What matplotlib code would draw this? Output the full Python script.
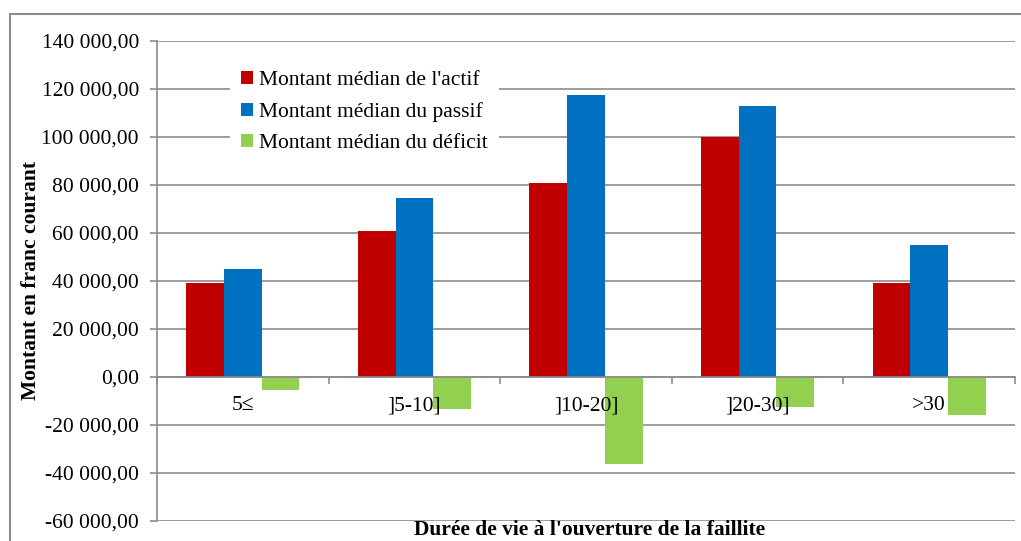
import numpy as np
import matplotlib.pyplot as plt
from matplotlib.patches import Rectangle
from matplotlib.ticker import FuncFormatter

# Tranches de durée de vie et montants médians (francs courants)
tranches = ["5≤", "]5-10]", "]10-20]", "]20-30]", ">30"]
actif = [39000, 61000, 81000, 100000, 39000]
passif = [45000, 74500, 117500, 113000, 55000]
deficit = [-5500, -13200, -36100, -12500, -15700]

series_labels = ["Montant médian de l'actif",
                 "Montant médian du passif",
                 "Montant médian du déficit"]
colors = ["#C00000", "#0070C0", "#92D050"]

plt.rcParams['font.family'] = ['Liberation Serif', 'DejaVu Serif']
plt.rcParams['font.size'] = 15.5

fig = plt.figure(figsize=(10.21, 5.41), dpi=100)
ax = fig.add_axes([157 / 1021, 1 - 521 / 541, 858 / 1021, 480 / 541])
ax.set_axisbelow(True)

grid_color = "#8C8C8C"
x = np.arange(len(tranches))
w = 0.22
for i, (vals, lab, col) in enumerate(zip([actif, passif, deficit], series_labels, colors)):
    ax.bar(x + (i - 1) * w, vals, width=w, color=col, label=lab, zorder=2)

ax.set_xlim(-0.5, len(tranches) - 0.5)
ax.set_ylim(-60000, 140000)
ax.set_yticks(np.arange(-60000, 140001, 20000))

def fr_format(v, pos):
    s = f"{abs(v):,.2f}".replace(",", " ").replace(".", ",")
    return ("-" if v < 0 else "") + s

ax.yaxis.set_major_formatter(FuncFormatter(fr_format))
ax.yaxis.grid(True, color=grid_color, linewidth=1.2)
ax.tick_params(axis='y', length=5, width=1.2, color=grid_color, pad=8)

# Axe des catégories sur la ligne du zéro, libellés au-dessus des barres
ax.xaxis.set_zorder(5)
ax.spines['bottom'].set_position(('data', 0))
ax.spines['bottom'].set_color(grid_color)
ax.spines['bottom'].set_linewidth(1.2)
ax.spines['bottom'].set_zorder(3)
ax.spines['left'].set_color(grid_color)
ax.spines['left'].set_linewidth(1.2)
ax.spines['top'].set_visible(False)
ax.spines['right'].set_visible(False)

ax.set_xticks(np.arange(-0.5, len(tranches)), labels=[""] * (len(tranches) + 1))
ax.set_xticks(x, labels=tranches, minor=True)
ax.tick_params(axis='x', which='major', length=5, width=1.2, color=grid_color, direction='out')
ax.tick_params(axis='x', which='minor', length=0, pad=14)

ax.set_ylabel("Montant en franc courant", fontweight='bold', labelpad=0)
fig.text(590 / 1021, 1 - 530 / 541, "Durée de vie à l'ouverture de la faillite",
         fontweight='bold', ha='center', va='center')

leg = ax.legend(loc='upper left', bbox_to_anchor=(0.085, 0.96), borderaxespad=0,
                frameon=True, fancybox=False, edgecolor='none', facecolor='white',
                framealpha=1, handlelength=0.55, handleheight=0.55, handletextpad=0.3,
                labelspacing=0.55, borderpad=0.5)
leg.set_zorder(6)

# Cadre extérieur du graphique
fig.patches.append(Rectangle((10 / 1021, -0.1), 1.1, 1 - 13.5 / 541 + 0.1,
                             transform=fig.transFigure, fill=False,
                             edgecolor=grid_color, linewidth=1.5))

fig.savefig("out.png", dpi=100)
